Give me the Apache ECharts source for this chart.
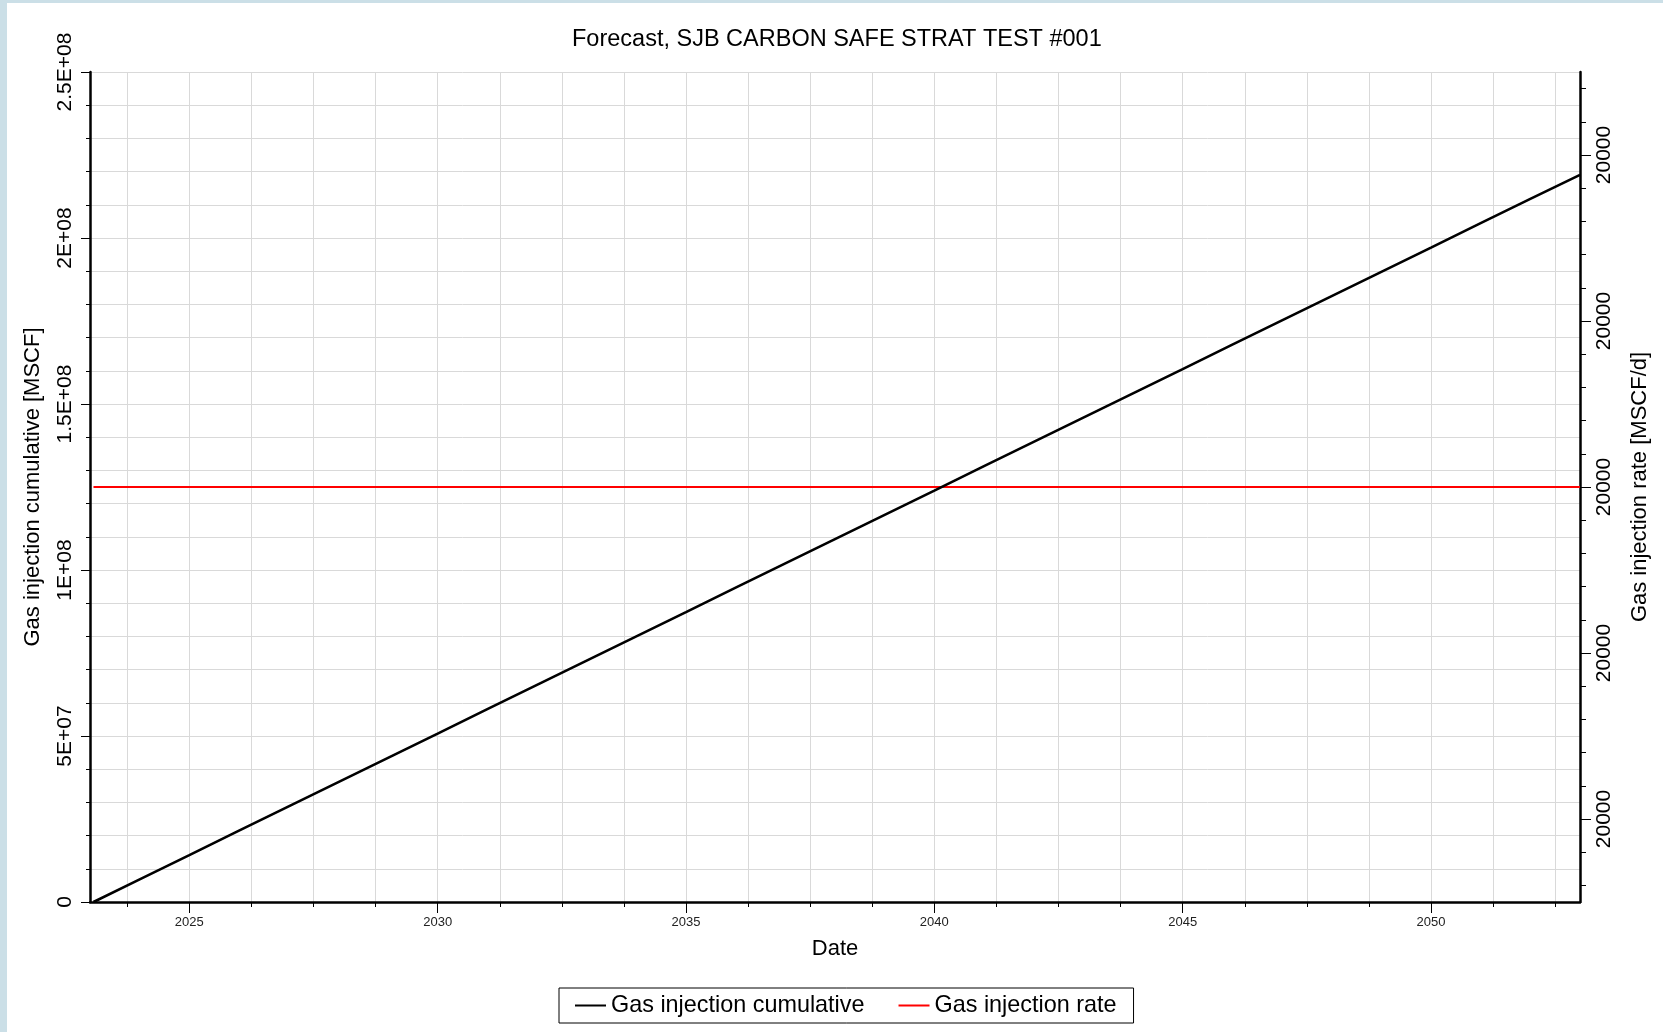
<!DOCTYPE html>
<html>
<head>
<meta charset="utf-8">
<title>Forecast, SJB CARBON SAFE STRAT TEST #001</title>
<script src="https://cdn.jsdelivr.net/npm/echarts@6/dist/echarts.min.js"></script>
<style>
  html, body { margin: 0; padding: 0; background: #ffffff; }
  #chart { width: 1663px; height: 1032px; }
</style>
</head>
<body>
<div id="chart"></div>
<script>
// Decimal-year sample points of the forecast
const years = [2023.07, 2024, 2025, 2026, 2027, 2028, 2029, 2030, 2031, 2032, 2033,
  2034, 2035, 2036, 2037, 2038, 2039, 2040, 2041, 2042, 2043, 2044, 2045, 2046,
  2047, 2048, 2049, 2050, 2051, 2052, 2053];

// Gas injection cumulative [MSCF]
const cumulative = [0, 6.8e6, 1.41e7, 2.15e7, 2.88e7, 3.61e7, 4.34e7, 5.07e7, 5.81e7,
  6.54e7, 7.27e7, 8.0e7, 8.73e7, 9.47e7, 1.02e8, 1.093e8, 1.166e8, 1.239e8, 1.313e8,
  1.386e8, 1.459e8, 1.532e8, 1.605e8, 1.679e8, 1.752e8, 1.825e8, 1.898e8, 1.971e8,
  2.045e8, 2.118e8, 2.19e8];

// Gas injection rate [MSCF/d]
const rate = [20000, 20000, 20000, 20000, 20000, 20000, 20000, 20000, 20000, 20000,
  20000, 20000, 20000, 20000, 20000, 20000, 20000, 20000, 20000, 20000, 20000, 20000,
  20000, 20000, 20000, 20000, 20000, 20000, 20000, 20000, 20000];

// Date axis: labelled years and the grid/tick positions (every 15 months)
const xLabelYears = [2025, 2030, 2035, 2040, 2045, 2050];
const xGridYears = [2023.75, 2025, 2026.25, 2027.5, 2028.75, 2030, 2031.25, 2032.5,
  2033.75, 2035, 2036.25, 2037.5, 2038.75, 2040, 2041.25, 2042.5, 2043.75, 2045,
  2046.25, 2047.5, 2048.75, 2050, 2051.25, 2052.5];

// Left axis tick labels (one per 5E+07)
const cumTickLabels = ['0', '5E+07', '1E+08', '1.5E+08', '2E+08', '2.5E+08'];

// Right axis: labelled rate values and minor tick positions
const rateLabelValues = [19999.6, 19999.8, 20000, 20000.2, 20000.4];
const rateMin = 19999.5, rateMax = 20000.5, rateMinorStep = 0.04;
const rateTickValues = [];
for (let k = -12; k <= 12; k++) rateTickValues.push(20000 + k * rateMinorStep);

const FONT = "'Liberation Sans', Arial, sans-serif";
const GRID_COLOR = '#d9d9d9';

const chart = echarts.init(document.getElementById('chart'), null, { renderer: 'canvas' });

chart.setOption({
  animation: false,
  backgroundColor: '#ffffff',
  textStyle: { fontFamily: FONT },
  graphic: [
    { type: 'rect', left: 0, top: 0, shape: { width: 7, height: 1032 }, style: { fill: '#cbdfe7' }, silent: true, z: 100 },
    { type: 'rect', left: 0, top: 0, shape: { width: 1663, height: 3 }, style: { fill: '#cbdfe7' }, silent: true, z: 100 }
  ],
  title: {
    text: 'Forecast, SJB CARBON SAFE STRAT TEST #001',
    left: 572,
    top: 28,
    padding: 0,
    textStyle: { fontSize: 23.5, fontWeight: 'normal', color: '#000', fontFamily: FONT }
  },
  legend: {
    left: 559,
    top: 988,
    orient: 'horizontal',
    padding: [6, 17, 6, 16],
    borderColor: '#000',
    borderWidth: 1,
    icon: 'rect',
    itemWidth: 31,
    itemHeight: 2,
    itemGap: 34,
    textStyle: { fontSize: 23.4, color: '#000', fontFamily: FONT },
    data: ['Gas injection cumulative', 'Gas injection rate']
  },
  grid: { left: 90, right: 83, top: 72, bottom: 130, containLabel: false },
  xAxis: [
    {
      type: 'value',
      min: 2023,
      max: 2053,
      position: 'bottom',
      name: 'Date',
      nameLocation: 'middle',
      nameGap: 36,
      nameTextStyle: { fontSize: 22, color: '#000', fontFamily: FONT },
      axisLine: { show: true, onZero: false, lineStyle: { color: '#000', width: 2.5 } },
      axisTick: { show: true, length: 5, customValues: xGridYears, lineStyle: { color: '#000', width: 1 } },
      axisLabel: {
        show: true, customValues: xLabelYears, fontSize: 13, color: '#222', margin: 14,
        formatter: v => String(Math.round(v))
      },
      splitLine: { show: true, lineStyle: { color: GRID_COLOR, width: 1 } }
    },
    {
      type: 'value',
      min: 2023,
      max: 2053,
      position: 'bottom',
      axisLine: { show: false, onZero: false },
      axisTick: { show: true, length: 11, customValues: xLabelYears, lineStyle: { color: '#000', width: 1 } },
      axisLabel: { show: false },
      splitLine: { show: false }
    }
  ],
  yAxis: [
    {
      type: 'value',
      position: 'left',
      min: 0,
      max: 2.5e8,
      interval: 5e7,
      name: 'Gas injection cumulative [MSCF]',
      nameLocation: 'middle',
      nameRotate: 90,
      nameGap: 46,
      nameTextStyle: { fontSize: 22, color: '#000', fontFamily: FONT },
      axisLine: { show: true, onZero: false, lineStyle: { color: '#000', width: 2.5 } },
      axisTick: { show: true, length: 9, lineStyle: { color: '#000', width: 1 } },
      minorTick: { show: true, splitNumber: 5, length: 4, lineStyle: { color: '#000', width: 1 } },
      axisLabel: {
        rotate: 90, fontSize: 21, color: '#000', margin: 14,
        formatter: v => cumTickLabels[Math.round(v / 5e7)]
      },
      splitLine: { show: true, lineStyle: { color: GRID_COLOR, width: 1 } },
      minorSplitLine: { show: true, lineStyle: { color: GRID_COLOR, width: 1 } }
    },
    {
      type: 'value',
      position: 'right',
      min: rateMin,
      max: rateMax,
      name: 'Gas injection rate [MSCF/d]',
      nameLocation: 'middle',
      nameRotate: 90,
      nameGap: 49,
      nameTextStyle: { fontSize: 22, color: '#000', fontFamily: FONT },
      axisLine: { show: true, onZero: false, lineStyle: { color: '#000', width: 2.5 } },
      axisTick: { show: true, length: 6, customValues: rateTickValues, lineStyle: { color: '#000', width: 1 } },
      axisLabel: {
        customValues: rateLabelValues, rotate: 90, fontSize: 21, color: '#000', margin: 14,
        formatter: v => String(Math.round(v))
      },
      splitLine: { show: false }
    },
    {
      type: 'value',
      position: 'right',
      min: rateMin,
      max: rateMax,
      axisLine: { show: false, onZero: false },
      axisTick: { show: true, length: 11, customValues: rateLabelValues, lineStyle: { color: '#000', width: 1 } },
      axisLabel: { show: false },
      splitLine: { show: false }
    }
  ],
  series: [
    {
      name: 'Gas injection cumulative',
      type: 'line',
      xAxisIndex: 0,
      yAxisIndex: 0,
      showSymbol: false,
      symbol: 'none',
      color: '#000000',
      lineStyle: { color: '#000000', width: 2.6 },
      data: years.map((y, i) => [y, cumulative[i]]),
      z: 3
    },
    {
      name: 'Gas injection rate',
      type: 'line',
      xAxisIndex: 0,
      yAxisIndex: 1,
      showSymbol: false,
      symbol: 'none',
      color: '#ff0000',
      lineStyle: { color: '#ff0000', width: 2 },
      data: years.map((y, i) => [y, rate[i]]),
      z: 2
    }
  ]
});
</script>
</body>
</html>
